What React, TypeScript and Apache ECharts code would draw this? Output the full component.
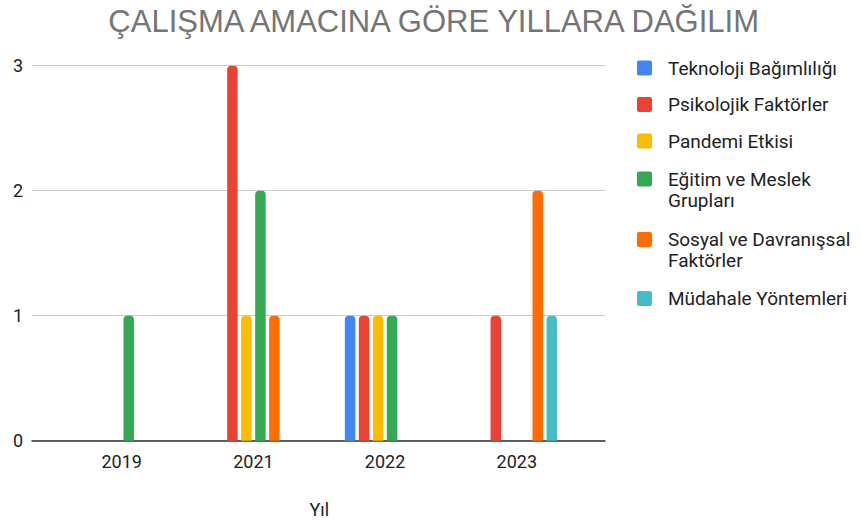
import React, { useEffect, useRef } from "react";
import * as echarts from "echarts";

const years = ["2019", "2021", "2022", "2023"];
const seriesNames = [
  "Teknoloji Bağımlılığı",
  "Psikolojik Faktörler",
  "Pandemi Etkisi",
  "Eğitim ve Meslek Grupları",
  "Sosyal ve Davranışsal Faktörler",
  "Müdahale Yöntemleri",
];
const teknoloji = [0, 0, 1, 0];
const psikolojik = [0, 3, 1, 1];
const pandemi = [0, 1, 1, 0];
const egitim = [1, 2, 1, 0];
const sosyal = [0, 1, 0, 2];
const mudahale = [0, 0, 0, 1];
const seriesValues = [teknoloji, psikolojik, pandemi, egitim, sosyal, mudahale];
const colors = ["#4285F4", "#EA4335", "#FBBC04", "#34A853", "#FF6D01", "#46BDC6"];
const legendLabels: Record<string, string> = {
  "Eğitim ve Meslek Grupları": "Eğitim ve Meslek\nGrupları",
  "Sosyal ve Davranışsal Faktörler": "Sosyal ve Davranışsal\nFaktörler",
};
const titleText = "ÇALIŞMA AMACINA GÖRE YILLARA DAĞILIM";
const xAxisName = "Yıl";
const yMin = 0;
const yMax = 3;
const yInterval = 1;

const iconSingle =
  "path://M0 0L0.01 0L0 0.01Z M2 10.5H13Q15 10.5 15 12.5V23.5Q15 25.5 13 25.5H2Q0 25.5 0 23.5V12.5Q0 10.5 2 10.5Z M0 36L0.01 36L0 35.99Z";
const iconDouble =
  "path://M0 0L0.01 0L0 0.01Z M2 0H13Q15 0 15 2V13Q15 15 13 15H2Q0 15 0 13V2Q0 0 2 0Z M0 36L0.01 36L0 35.99Z";

export default function App() {
  const ref = useRef<HTMLDivElement>(null);
  useEffect(() => {
    if (!ref.current) return;
    const chart = echarts.init(ref.current, null, { renderer: "svg" });
    const top = 65.7;
    const bottom = 524 - 440.7;
    chart.setOption({
      animation: false,
      backgroundColor: "#ffffff",
      title: {
        text: titleText,
        left: 428.7,
        textAlign: "center",
        top: 1,
        textStyle: {
          fontFamily: "Liberation Sans",
          fontSize: 31,
          fontWeight: "normal",
          color: "#757575",
        },
      },
      legend: {
        orient: "vertical",
        left: 637,
        top: 50,
        padding: 0,
        itemWidth: 15,
        itemHeight: 36,
        itemGap: 0.5,
        selectedMode: false,
        textStyle: {
          fontFamily: "Roboto",
          fontSize: 19,
          color: "#222222",
          lineHeight: 21,
          padding: [0, 0, 0, 11],
        },
        formatter: (n: string) => legendLabels[n] ?? n,
        data: seriesNames.map((n) => ({
          name: n,
          icon: legendLabels[n] ? iconDouble : iconSingle,
          textStyle: legendLabels[n] ? { padding: [9, 0, 9, 11] } : {},
        })),
      },
      grid: [
        { left: 32, right: 861 - 605, top, bottom },
        { left: 55.9, right: 861 - 582.6, top, bottom },
      ],
      xAxis: [
        {
          type: "category",
          gridIndex: 0,
          data: years,
          axisLine: { show: true, lineStyle: { color: "#333333", width: 1.5 } },
          axisTick: { show: false },
          axisLabel: { show: false },
          splitLine: { show: false },
        },
        {
          type: "category",
          gridIndex: 1,
          data: years,
          axisLine: { show: false },
          axisTick: { show: false },
          axisLabel: {
            fontFamily: "Roboto",
            fontSize: 18,
            color: "#222222",
            margin: 12,
          },
          name: xAxisName,
          nameLocation: "middle",
          nameGap: 60,
          nameTextStyle: { fontFamily: "Roboto", fontSize: 18, color: "#222222" },
        },
      ],
      yAxis: [
        {
          type: "value",
          gridIndex: 0,
          min: yMin,
          max: yMax,
          interval: yInterval,
          axisLine: { show: false },
          axisTick: { show: false },
          axisLabel: { fontFamily: "Roboto", fontSize: 18, color: "#222222", margin: 9 },
          splitLine: { show: true, lineStyle: { color: "#cccccc", width: 1 } },
        },
        {
          type: "value",
          gridIndex: 1,
          min: yMin,
          max: yMax,
          interval: yInterval,
          show: false,
          splitLine: { show: false },
        },
      ],
      series: seriesNames.map((name, i) => ({
        name,
        type: "bar",
        xAxisIndex: 1,
        yAxisIndex: 1,
        data: seriesValues[i],
        barWidth: 10.5,
        barGap: "33.3%",
        itemStyle: { color: colors[i], borderRadius: [4, 4, 0, 0] },
      })),
    });
    return () => chart.dispose();
  }, []);
  return (
    <div
      ref={ref}
      style={{ position: "absolute", left: 0, top: 0, width: 861, height: 524 }}
    />
  );
}
